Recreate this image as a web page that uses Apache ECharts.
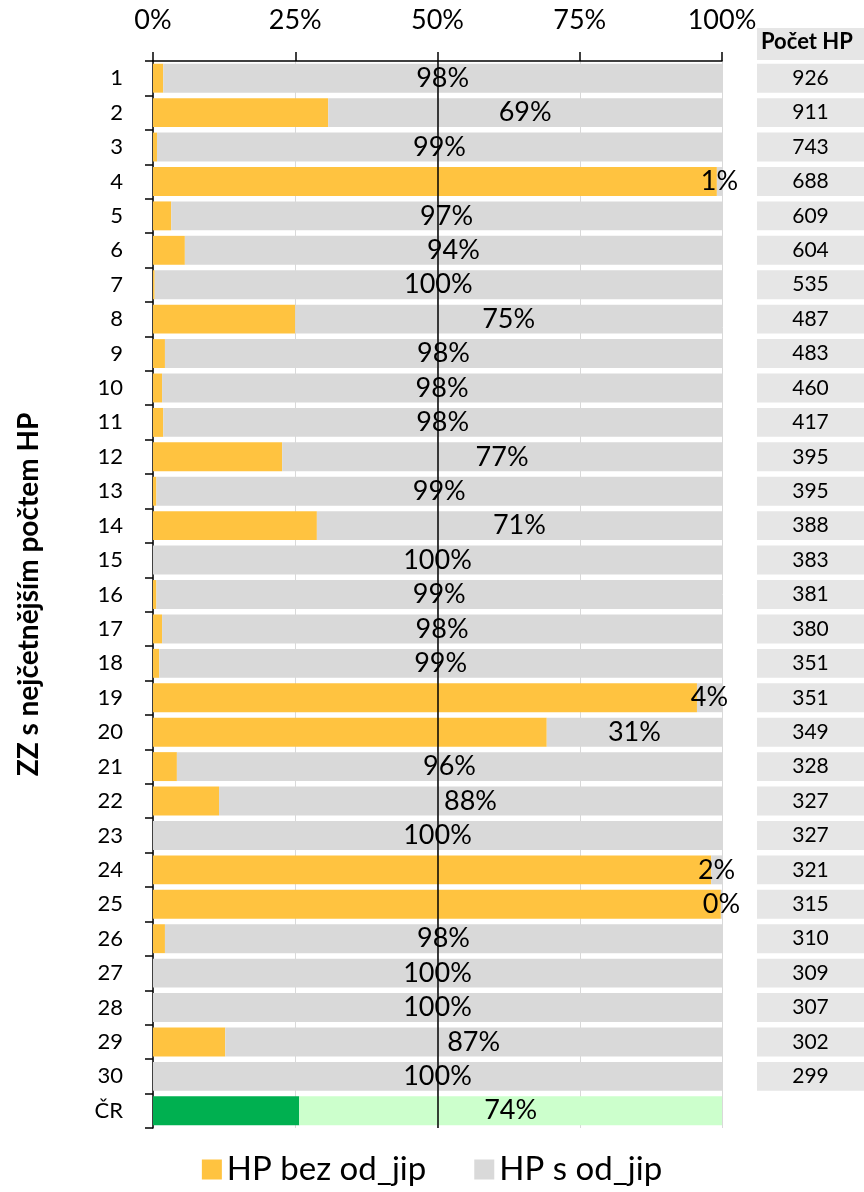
<!DOCTYPE html>
<html><head><meta charset="utf-8">
<script src="https://cdn.jsdelivr.net/npm/echarts@6/dist/echarts.min.js"></script>
<style>html,body{margin:0;padding:0;background:#fff}#c{width:864px;height:1192px}</style>
</head><body><div id="c"></div>
<script>
const categories = ['1','2','3','4','5','6','7','8','9','10','11','12','13','14','15','16','17','18','19','20','21','22','23','24','25','26','27','28','29','30','ČR'];
const bezOdJip = [1.8,30.8,0.7,99.1,3.2,5.6,0.3,25.0,2.1,1.6,1.8,22.7,0.6,28.8,0,0.6,1.6,1.1,95.6,69.2,4.2,11.6,0,98.1,99.8,2.1,0,0,12.7,0,25.7];
const sOdJip = [98.2,69.2,99.3,0.9,96.8,94.4,99.7,75.0,97.9,98.4,98.2,77.3,99.4,71.2,100,99.4,98.4,98.9,4.4,30.8,95.8,88.4,100,1.9,0.2,97.9,100,100,87.3,100,74.3];
const pocetHP = [926,911,743,688,609,604,535,487,483,460,417,395,395,388,383,381,380,351,351,349,328,327,327,321,315,310,309,307,302,299,null];
const xTicks = [0,25,50,75,100];

const FONT = 'Lato';
const cr = 'ČR';
const orangeData = bezOdJip.map((v,i)=> categories[i]===cr ? {value:v, itemStyle:{color:'#00B050'}} : v);
const grayData = sOdJip.map((v,i)=> categories[i]===cr ? {value:v, itemStyle:{color:'#CCFFCC'}} : v);
const tableData = pocetHP.map(v => v===null ? null : {value:1, count:v});

const chart = echarts.init(document.getElementById('c'), null, {renderer:'canvas'});
chart.setOption({
  animation:false,
  textStyle:{fontFamily:FONT},
  grid:[
    {left:153, right:142, top:61, bottom:64, containLabel:false, outerBoundsMode:'none'},
    {left:757, right:0, top:61, bottom:64, containLabel:false, outerBoundsMode:'none'}
  ],
  legend:{
    data:['HP bez od_jip','HP s od_jip'],
    bottom:1, left:'center',
    itemWidth:20, itemHeight:20, itemGap:48,
    icon:'rect',
    textStyle:{fontFamily:FONT, fontSize:33, color:'#000'}
  },
  xAxis:[
    {type:'value', gridIndex:0, position:'top', min:0, max:100, interval:25,
     axisLine:{show:true, lineStyle:{color:'#000', width:1.5}},
     axisTick:{show:true, length:9, lineStyle:{color:'#000', width:1.5}},
     splitLine:{show:true, lineStyle:{color:'#D9D9D9', width:1}},
     axisLabel:{fontFamily:FONT, fontSize:27, color:'#000', margin:27,
       formatter: v => xTicks.includes(v) ? v+'%' : ''}},
    {type:'value', gridIndex:1, min:0, max:1, show:false}
  ],
  yAxis:[
    {type:'category', gridIndex:0, data:categories, inverse:true,
     axisLine:{show:true, lineStyle:{color:'#000', width:1.5}},
     axisTick:{show:true, length:8, lineStyle:{color:'#000', width:1.5}},
     axisLabel:{fontFamily:FONT, fontSize:22, color:'#000', margin:30},
     name:'ZZ s nejčetnějším počtem HP', nameLocation:'middle', nameRotate:90, nameGap:110,
     nameTextStyle:{fontFamily:FONT, fontSize:28, fontWeight:'bold', color:'#000'}},
    {type:'category', gridIndex:1, data:categories, inverse:true, show:false}
  ],
  series:[
    {name:'HP bez od_jip', type:'bar', stack:'a', xAxisIndex:0, yAxisIndex:0,
     barCategoryGap:'16%', data:orangeData, itemStyle:{color:'#FFC340'}},
    {name:'HP s od_jip', type:'bar', stack:'a', xAxisIndex:0, yAxisIndex:0,
     barCategoryGap:'16%', data:grayData, itemStyle:{color:'#D9D9D9'},
     label:{show:true, position:'inside', fontFamily:FONT, fontSize:27, color:'#000',
       formatter: p => Math.round(p.value)+'%'},
     markLine:{silent:true, symbol:['none','none'], label:{show:false},
       lineStyle:{color:'#000', width:1.5, type:'solid'},
       data:[{xAxis:50}]}},
    {name:'table', type:'bar', xAxisIndex:1, yAxisIndex:1, barCategoryGap:'16%',
     data:tableData, itemStyle:{color:'#E6E6E6'},
     label:{show:true, position:'inside', fontFamily:FONT, fontSize:21, color:'#000',
       formatter: p => p.data && p.data.count!=null ? String(p.data.count) : ''}}
  ],
  graphic:[
    {type:'rect', left:757, top:28, shape:{width:107, height:32}, style:{fill:'#E6E6E6'}},
    {type:'text', left:761, top:31, style:{text:'Počet HP', font:'bold 22px Lato', fill:'#000'}}
  ]
});
</script></body></html>
